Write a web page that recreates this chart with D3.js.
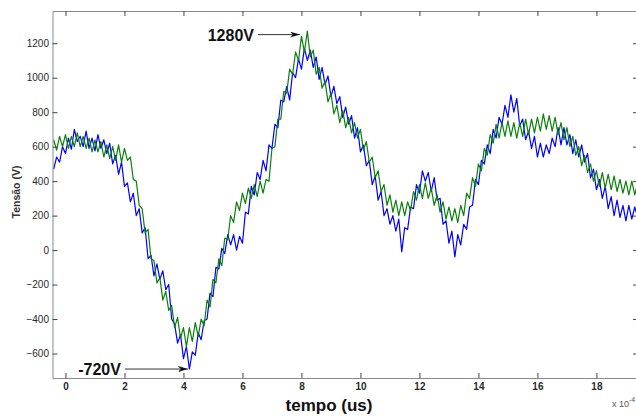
<!DOCTYPE html>
<html><head><meta charset="utf-8">
<script src="https://cdn.jsdelivr.net/npm/d3@7"></script>
<style>body{margin:0;background:#fff;} svg{display:block;}</style>
</head><body>
<script>
// sampling grid (units of 1e-4 s)
const tStart = -0.4, tStep = 0.1;

// Blue trace (V), one value per sample
const blueValues = [
  470,540,510,600,560,650,585,700,630,660,
  600,690,590,650,575,670,590,640,560,620,
  500,550,440,510,370,390,280,330,200,240,
  100,130,-50,-30,-150,-80,-170,-120,-230,-200,
  -400,-430,-540,-490,-630,-560,-690,-590,-610,-480,
  -520,-410,-400,-250,-270,-100,-110,10,-20,90,
  30,90,0,80,40,220,210,370,320,450,
  410,520,460,610,590,730,710,870,860,950,
  870,1030,1000,1110,1050,1170,1100,1160,1060,1120,
  990,1060,960,1010,890,950,850,890,770,830,
  730,780,650,710,570,610,490,520,380,430,
  290,340,200,240,150,200,110,180,-10,130,
  120,250,240,380,330,460,400,450,340,420,
  290,300,150,170,40,110,-40,90,30,150,
  120,250,260,410,380,520,500,610,560,700,
  650,770,730,840,770,900,800,880,720,760,
  640,690,590,660,540,620,540,610,560,650,
  600,710,610,710,610,670,560,640,540,610,
  510,560,420,470,350,410,300,370,240,310,
  200,290,190,260,170,260,180,250,190
];

// Green trace (V)
const greenValues = [
  640,580,660,600,670,590,660,600,680,600,
  660,590,650,570,640,570,630,540,610,530,
  600,520,610,510,590,520,540,410,400,260,
  240,100,120,-50,-60,-190,-160,-290,-240,-350,
  -320,-450,-390,-510,-450,-560,-450,-530,-420,-500,
  -400,-440,-290,-330,-170,-190,-50,-90,70,60,
  200,160,280,230,330,270,360,300,380,310,
  400,330,410,400,590,600,760,760,920,910,
  1050,1020,1150,1100,1240,1150,1270,1120,1160,1020,
  1060,940,980,860,910,790,840,740,810,710,
  770,680,740,650,700,580,630,510,540,420,
  460,340,380,260,320,220,290,200,280,200,
  280,230,340,290,380,300,390,300,360,260,
  320,220,280,180,250,170,240,160,260,200,
  330,300,420,370,500,460,590,550,670,620,
  730,650,740,660,750,660,740,650,740,660,
  760,670,760,680,770,690,790,700,780,690,
  770,670,740,640,710,600,660,550,600,490,
  550,450,500,400,460,370,450,360,440,350,
  430,340,410,330,400,320,400,320,390
];

const xTicks = [0,2,4,6,8,10,12,14,16,18];
const yTicks = [-600,-400,-200,0,200,400,600,800,1000,1200];
const annLabels = ["1280V", "-720V"];
const annT = [7.95, 4.15];
const annV = [1250, -690];
const annLen = [42, 63];

const W = 636, H = 416;
const M = {l: 52.5, r: 638, t: 11, b: 378};
const FONT = "'Liberation Sans', Arial, sans-serif";

const svg = d3.select("body").append("svg").attr("width", W).attr("height", H)
  .style("font-family", FONT);

const x = d3.scaleLinear().domain([-0.44, 19.41]).range([M.l, M.r]);
const y = d3.scaleLinear().domain([-742, 1387]).range([M.b, M.t]);

const defs = svg.append("defs");
defs.append("clipPath").attr("id", "clip")
  .append("rect").attr("x", M.l).attr("y", M.t).attr("width", M.r - M.l).attr("height", M.b - M.t);
defs.append("marker").attr("id", "arr").attr("viewBox", "0 0 10 6")
  .attr("refX", 10).attr("refY", 3).attr("markerWidth", 10).attr("markerHeight", 6)
  .attr("markerUnits", "userSpaceOnUse").attr("orient", "auto")
  .append("path").attr("d", "M0,0 L10,3 L0,6 L3,3 Z").attr("fill", "#111");

const line = d3.line().x((d, i) => x(tStart + i * tStep)).y(d => y(d));

const plot = svg.append("g").attr("clip-path", "url(#clip)");
plot.append("path").datum(blueValues).attr("d", line)
  .attr("fill", "none").attr("stroke", "#0000ff").attr("stroke-width", 1.2).attr("stroke-linejoin", "round");
plot.append("path").datum(greenValues).attr("d", line)
  .attr("fill", "none").attr("stroke", "#0a800a").attr("stroke-width", 1.2).attr("stroke-linejoin", "round");

// axes
const boxColor = "#8a8a8a", tickColor = "#444";
function style(g, showText, bold) {
  g.select(".domain").attr("stroke", boxColor);
  g.selectAll(".tick line").attr("stroke", tickColor);
  g.selectAll(".tick text").attr("fill", "#2a2a2a").style("font-size", "10px")
    .style("font-weight", bold ? "bold" : "normal").style("display", showText ? null : "none");
}
const fmt = d3.format("d");
svg.append("g").attr("transform", `translate(0,${M.b})`)
  .call(d3.axisBottom(x).tickValues(xTicks).tickFormat(fmt).tickSizeInner(-5).tickSizeOuter(0).tickPadding(5))
  .call(g => style(g, true, true));
svg.append("g").attr("transform", `translate(0,${M.t})`)
  .call(d3.axisTop(x).tickValues(xTicks).tickSizeInner(-5).tickSizeOuter(0))
  .call(g => style(g, false));
svg.append("g").attr("transform", `translate(${M.l},0)`)
  .call(d3.axisLeft(y).tickValues(yTicks).tickFormat(fmt).tickSizeInner(-5).tickSizeOuter(0).tickPadding(3.5))
  .call(g => style(g, true, false));
svg.append("g").attr("transform", `translate(${M.r},0)`)
  .call(d3.axisRight(y).tickValues(yTicks).tickSizeInner(-5).tickSizeOuter(0))
  .call(g => style(g, false));

// axis titles
svg.append("text").attr("x", 329).attr("y", 411).attr("text-anchor", "middle")
  .style("font-size", "17px").style("font-weight", "bold").attr("fill", "#111").text("tempo (us)");
svg.append("text").attr("transform", "translate(20,192) rotate(-90)").attr("text-anchor", "middle")
  .style("font-size", "10.5px").style("font-weight", "bold").attr("fill", "#333").text("Tensão (V)");
const mult = svg.append("text").attr("x", 612).attr("y", 407).style("font-size", "9px").attr("fill", "#555");
mult.append("tspan").text("x 10");
mult.append("tspan").attr("dy", -5).style("font-size", "7px").text("-4");

// annotations
annLabels.forEach((lab, i) => {
  const tx = x(annT[i]), ty = y(annV[i]);
  svg.append("line").attr("x1", tx - annLen[i]).attr("y1", ty).attr("x2", tx).attr("y2", ty)
    .attr("stroke", "#333").attr("stroke-width", 1).attr("marker-end", "url(#arr)");
  svg.append("text").attr("x", tx - annLen[i] - 4).attr("y", ty + 6).attr("text-anchor", "end")
    .style("font-size", "16px").style("font-weight", "bold").attr("fill", "#111").text(lab);
});
</script>
</body></html>
